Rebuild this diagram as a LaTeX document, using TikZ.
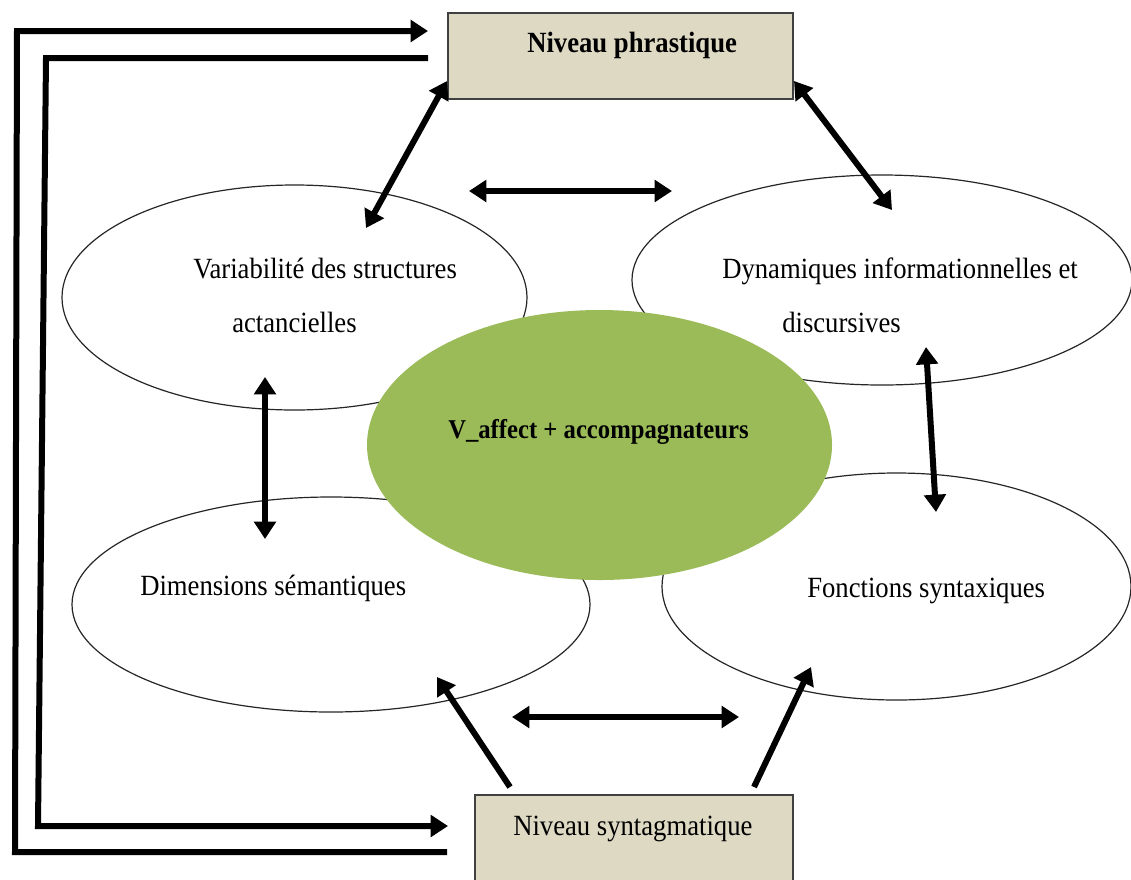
\documentclass[tikz,border=0pt]{standalone}
\usepackage{fontspec}
\setmainfont{Liberation Serif}
\usetikzlibrary{arrows.meta,shapes.geometric}
\definecolor{tanbox}{HTML}{DDD9C3}
\definecolor{olivefill}{HTML}{9BBB59}
\newcommand{\vtxt}[1]{\scalebox{1}[1.1]{#1}}
\begin{document}
\begin{tikzpicture}[x=0.75pt,y=-0.75pt,
  bubble/.style={ellipse,draw=black!85,line width=0.9pt,fill=white,inner sep=0pt},
  levelbox/.style={rectangle,draw=black!75,line width=1.1pt,fill=tanbox,inner sep=0pt},
  lbl/.style={anchor=base west,inner sep=0pt,font=\fontsize{20pt}{24pt}\selectfont},
  blbl/.style={lbl,font=\fontsize{20pt}{24pt}\selectfont\bfseries},
  tipshape/.style={},
  dblarrow/.style={line width=4.5pt,{Triangle[length=13pt,width=16pt]}-{Triangle[length=13pt,width=16pt]}},
  onearrow/.style={line width=4.5pt,-{Triangle[length=13pt,width=16pt]}},
  frame/.style={line width=4.5pt,line join=miter}
]
\clip (0,0) rectangle (1131,879);
\fill[white] (0,0) rectangle (1131,879);

% level boxes
\node[levelbox,minimum width=258.75pt,minimum height=64.5pt] (phr) at (620.5,56) {};
\node[levelbox,minimum width=238.5pt,minimum height=64.5pt] (syn) at (634,838) {};
\node[blbl] (phrt) at (527,52) {\vtxt{Niveau phrastique}};
\node[lbl] (synt) at (513,835) {\vtxt{Niveau syntagmatique}};

% ellipses
\node[bubble,minimum width=348.75pt,minimum height=168.75pt] (var) at (294.5,297.5) {};
\node[bubble,minimum width=375pt,minimum height=157.5pt] (dyn) at (882,280) {};
\node[bubble,minimum width=388.5pt,minimum height=161.25pt] (dim) at (331,604.5) {};
\node[bubble,minimum width=351.75pt,minimum height=170.25pt] (fon) at (896.5,586.5) {};
\node[ellipse,fill=olivefill,inner sep=0pt,minimum width=348.75pt,minimum height=202.5pt] (ctr) at (599.5,445) {};

% texts
\node[lbl] (vart1) at (193,278) {\vtxt{Variabilité des structures}};
\node[lbl] (vart2) at (232,332) {\vtxt{actancielles}};
\node[lbl] (dynt1) at (722,278) {\vtxt{Dynamiques informationnelles et}};
\node[lbl] (dynt2) at (782,332) {\vtxt{discursives}};
\node[lbl] (dimt) at (140,595) {\vtxt{Dimensions sémantiques}};
\node[lbl] (font) at (807,597) {\vtxt{Fonctions syntaxiques}};
\node[blbl,font=\fontsize{18.5pt}{22pt}\selectfont\bfseries] (ctrt) at (448,438) {\vtxt{V\_affect + accompagnateurs}};

% connector end points
\coordinate (p1) at (447,81);
\coordinate (v1) at (366,228);
\coordinate (p2) at (794,81);
\coordinate (d1) at (892,210);
\coordinate (h1) at (469,191);
\coordinate (h2) at (672,191);
\coordinate (l1) at (265,377);
\coordinate (l2) at (265,539);
\coordinate (r1) at (926,347);
\coordinate (r2) at (936,512);
\coordinate (b1) at (512,717);
\coordinate (b2) at (739,717);
\coordinate (s1) at (510,787);
\coordinate (m1) at (437,677);
\coordinate (s2) at (754,787);
\coordinate (f1) at (811,667);

% frame connectors
\coordinate (oa) at (447,852);
\coordinate (ob) at (15,852);
\coordinate (oc) at (17,31);
\coordinate (od) at (428,31);
\coordinate (ia) at (428,58);
\coordinate (ib) at (46,58);
\coordinate (ic) at (38,826);
\coordinate (id) at (448,826);

\draw[frame,-{Triangle[length=13pt,width=16pt]}] (oa) -- (ob) -- (oc) -- (od);
\draw[frame,-{Triangle[length=13pt,width=16pt]}] (ia) -- (ib) -- (ic) -- (id);

% arrows
\draw[dblarrow] (p1) -- (v1);
\draw[dblarrow] (p2) -- (d1);
\draw[dblarrow] (h1) -- (h2);
\draw[dblarrow] (l1) -- (l2);
\draw[dblarrow] (r1) -- (r2);
\draw[dblarrow] (b1) -- (b2);
\draw[onearrow] (s1) -- (m1);
\draw[onearrow] (s2) -- (f1);
\end{tikzpicture}
\end{document}
